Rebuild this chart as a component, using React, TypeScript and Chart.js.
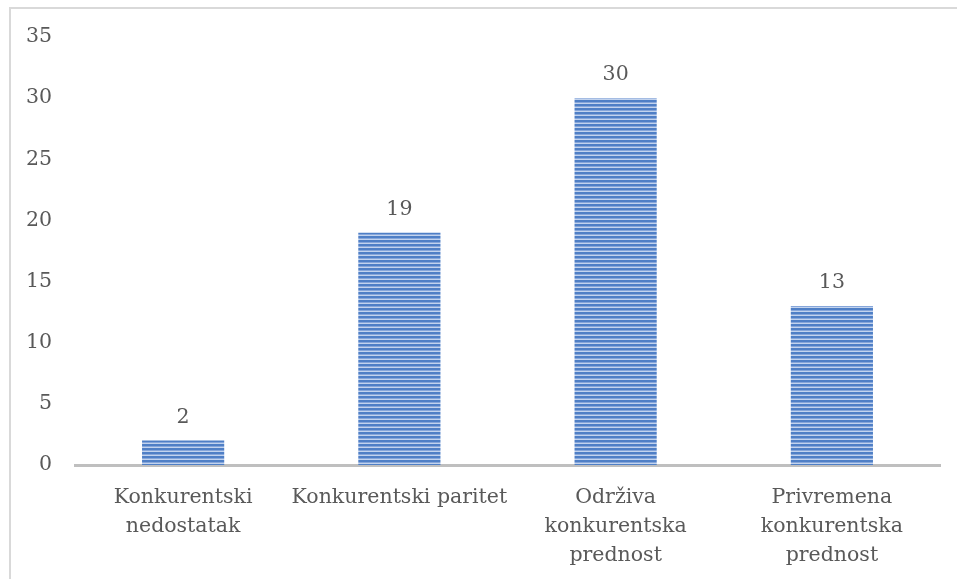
import React, { useEffect, useRef } from "react";
import { Chart, registerables } from "chart.js";

Chart.register(...registerables);

const categories: string[][] = [
  ["Konkurentski", "nedostatak"],
  ["Konkurentski paritet"],
  ["Održiva", "konkurentska", "prednost"],
  ["Privremena", "konkurentska", "prednost"],
];
const values: number[] = [2, 19, 30, 13];
const yMax = 35;
const yStep = 5;

const FONT = "'DejaVu Serif', serif";
const TEXT = "#595959";
const FS = 20.5;

function makePattern(): CanvasPattern | string {
  const c = document.createElement("canvas");
  c.width = 4;
  c.height = 4;
  const ctx = c.getContext("2d");
  if (!ctx) return "#4f81bd";
  ctx.fillStyle = "#c2d3ee";
  ctx.fillRect(0, 0, 4, 4);
  ctx.fillStyle = "#4f7fc6";
  ctx.fillRect(0, 0, 4, 2);
  ctx.fillStyle = "#86a6da";
  ctx.fillRect(0, 2, 4, 1);
  const p = ctx.createPattern(c, "repeat");
  return p || "#4f81bd";
}

const valueLabels = {
  id: "valueLabels",
  afterDatasetsDraw(chart: any) {
    const ctx = chart.ctx;
    const meta = chart.getDatasetMeta(0);
    ctx.save();
    ctx.font = `${FS}px ${FONT}`;
    ctx.fillStyle = TEXT;
    ctx.textAlign = "center";
    ctx.textBaseline = "middle";
    meta.data.forEach((bar: any, i: number) => {
      ctx.fillText(String(values[i]), bar.x, bar.y - 23);
    });
    ctx.restore();
  },
};

export default function App() {
  const ref = useRef<HTMLCanvasElement>(null);
  useEffect(() => {
    if (!ref.current) return;
    const chart = new Chart(ref.current, {
      type: "bar",
      data: {
        labels: categories,
        datasets: [
          {
            data: values,
            backgroundColor: makePattern() as any,
            barPercentage: 0.38,
            categoryPercentage: 1,
          },
        ],
      },
      options: {
        animation: false,
        responsive: false,
        maintainAspectRatio: false,
        layout: { padding: { left: 0, right: 17, top: 37, bottom: 0 } },
        plugins: { legend: { display: false }, tooltip: { enabled: false } },
        scales: {
          x: {
            grid: { display: false, drawTicks: false },
            border: { display: true, color: "#bfbfbf", width: 3 },
            ticks: {
              color: TEXT,
              font: { family: FONT, size: FS, lineHeight: 1.41 },
              padding: 18,
              maxRotation: 0,
              autoSkip: false,
            },
            afterFit(scale: any) {
              scale.height = 114;
            },
          },
          y: {
            min: 0,
            max: yMax,
            grid: { display: false, drawTicks: false },
            border: { display: false },
            ticks: {
              stepSize: yStep,
              color: TEXT,
              font: { family: FONT, size: FS },
              padding: 23,
            },
            afterFit(scale: any) {
              scale.width = 75;
            },
          },
        },
      },
      plugins: [valueLabels],
    });
    return () => chart.destroy();
  }, []);
  return (
    <div style={{ position: "absolute", left: 0, top: 0, width: 957, height: 579, background: "#fff" }}>
      <div
        style={{
          position: "absolute",
          left: 9,
          top: 7,
          width: 948,
          height: 572,
          borderLeft: "2px solid #d9d9d9",
          borderTop: "2px solid #d9d9d9",
          boxSizing: "border-box",
        }}
      />
      <canvas ref={ref} width={957} height={579} style={{ position: "absolute", left: 0, top: 0, display: "block" }} />
    </div>
  );
}
